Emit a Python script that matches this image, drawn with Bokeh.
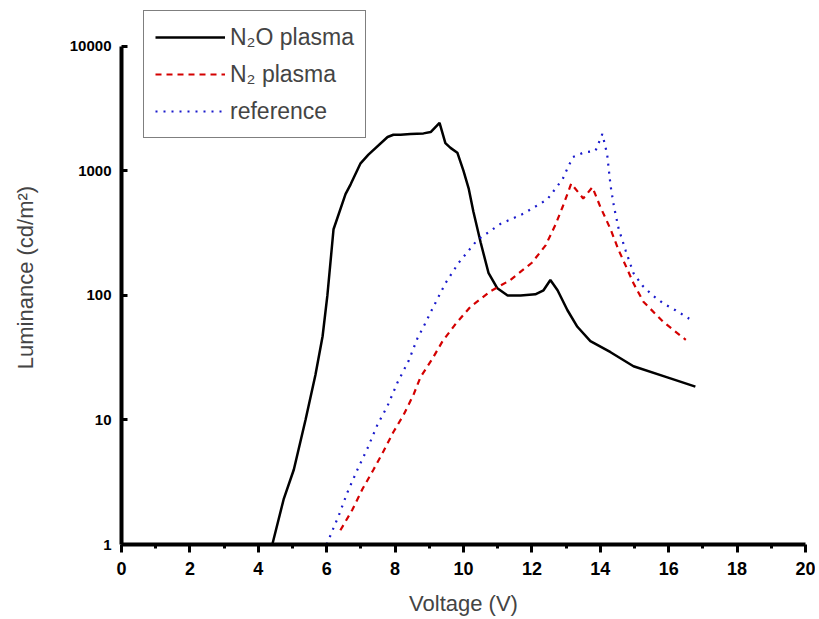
from bokeh.plotting import figure
from bokeh.models import FixedTicker, PrintfTickFormatter
from bokeh.embed import file_html
from bokeh.resources import INLINE

# N2O plasma (solid black)
n2o_v = [4.41, 4.74, 5.04, 5.38, 5.67, 5.88, 6.02, 6.2, 6.55, 6.70, 6.99, 7.22, 7.78, 7.95, 8.16,
         8.45, 8.83, 9.04, 9.30, 9.47, 9.62, 9.82, 10.0, 10.15, 10.29, 10.50, 10.73, 10.99, 11.29,
         11.67, 12.1, 12.34, 12.54, 12.75, 13.04, 13.33, 13.71, 14.30, 14.97, 15.96, 16.78]
n2o_l = [1.0, 2.3, 4.0, 10, 23, 47, 100, 340, 650, 780, 1150, 1350, 1870, 1950, 1950,
         1980, 2000, 2050, 2430, 1670, 1530, 1400, 1000, 725, 470, 267, 152, 114, 100,
         100, 102, 110, 133, 110, 76, 56, 43, 35, 27, 22, 18.5]

# N2 plasma (dashed red)
n2_v = [6.4, 6.75, 7.05, 7.37, 7.66, 7.95, 8.25, 8.54, 8.74, 9.09, 9.39, 9.77, 10.2, 10.79, 11.37,
        12.0, 12.4, 12.69, 12.9, 13.15, 13.5, 13.77, 14.0, 14.3, 14.53, 14.8, 14.97, 15.26, 15.85, 16.5]
n2_l = [1.3, 1.9, 2.8, 4.0, 5.6, 8, 11, 16, 22, 31, 43, 59, 81, 108, 133,
        183, 252, 370, 515, 790, 600, 740, 515, 340, 233, 160, 125, 89, 61, 44]

# reference (dotted blue)
ref_v = [6.0, 6.2, 6.35, 6.6, 6.9, 7.19, 7.48, 7.78, 8.07, 8.4, 8.65, 8.83, 9.12, 9.47, 9.86, 10.4,
         11.08, 11.75, 12.45, 12.9, 13.04, 13.2, 13.5, 13.86, 14.06, 14.2, 14.3, 14.4, 14.54, 14.74,
         14.97, 15.23, 15.53, 15.85, 16.2, 16.6]
ref_l = [1.0, 1.36, 1.7, 2.6, 4.0, 5.9, 9.1, 13, 20, 30, 45, 56, 81, 125, 183, 278,
         375, 453, 590, 860, 1050, 1290, 1400, 1450, 1980, 1360, 760, 515, 340, 230,
         151, 120, 100, 86, 76, 65]

x_major = [0, 2, 4, 6, 8, 10, 12, 14, 16, 18, 20]
x_minor = [1, 3, 5, 7, 9, 11, 13, 15, 17, 19]
y_major = [1, 10, 100, 1000, 10000]

FONT = "Liberation Sans"

p = figure(width=815, height=618, x_range=(0, 20), y_range=(1, 19400),
           y_axis_type="log", output_backend="svg", toolbar_location=None,
           min_border_left=121, min_border_right=10, min_border_top=10, min_border_bottom=68)
p.outline_line_color = None
p.xgrid.visible = False
p.ygrid.visible = False

p.line(n2o_v, n2o_l, line_color="black", line_width=2.5, legend_label="N\u2082O plasma")
p.line(n2_v, n2_l, line_color="#d40000", line_width=2.2, line_dash="6 5", legend_label="N\u2082 plasma")
p.line(ref_v, ref_l, line_color="#1a1acc", line_width=2.2, line_dash="2 6", legend_label="reference")

xa = p.xaxis[0]
xa.ticker = FixedTicker(ticks=x_major, minor_ticks=x_minor)
xa.axis_label = "Voltage (V)"
xa.axis_line_width = 4
xa.major_tick_line_width = 3
xa.minor_tick_line_width = 3
xa.major_tick_out = 8
xa.major_tick_in = 0
xa.minor_tick_out = 4
xa.minor_tick_in = 0
xa.major_label_text_font = FONT
xa.major_label_text_font_style = "bold"
xa.major_label_text_font_size = "18px"
xa.major_label_text_color = "black"
xa.major_label_standoff = 9
xa.axis_label_text_font = FONT
xa.axis_label_text_font_style = "normal"
xa.axis_label_text_font_size = "22px"
xa.axis_label_standoff = 13

ya = p.yaxis[0]
ya.ticker = FixedTicker(ticks=y_major, minor_ticks=[])
ya.formatter = PrintfTickFormatter(format="%d")
ya.bounds = (1, 10000)
ya.axis_label = "Luminance (cd/m\u00b2)"
ya.axis_line_width = 4
ya.major_tick_line_width = 3
ya.major_tick_in = 6
ya.major_tick_out = 0
ya.minor_tick_in = 0
ya.minor_tick_out = 0
ya.major_label_text_font = FONT
ya.major_label_text_font_style = "bold"
ya.major_label_text_font_size = "15px"
ya.major_label_text_color = "black"
ya.major_label_standoff = 10
ya.axis_label_text_font = FONT
ya.axis_label_text_font_style = "normal"
ya.axis_label_text_font_size = "22px"
ya.axis_label_standoff = 29

lg = p.legend[0]
lg.location = (22, 406)
lg.border_line_color = "black"
lg.border_line_width = 1.5
lg.label_text_font = FONT
lg.label_text_font_size = "23px"
lg.glyph_width = 70
lg.glyph_height = 30
lg.label_height = 30
lg.label_standoff = 5
lg.spacing = 7
lg.padding = 11
lg.background_fill_alpha = 1.0

open("out.html", "w").write(file_html(p, INLINE))
